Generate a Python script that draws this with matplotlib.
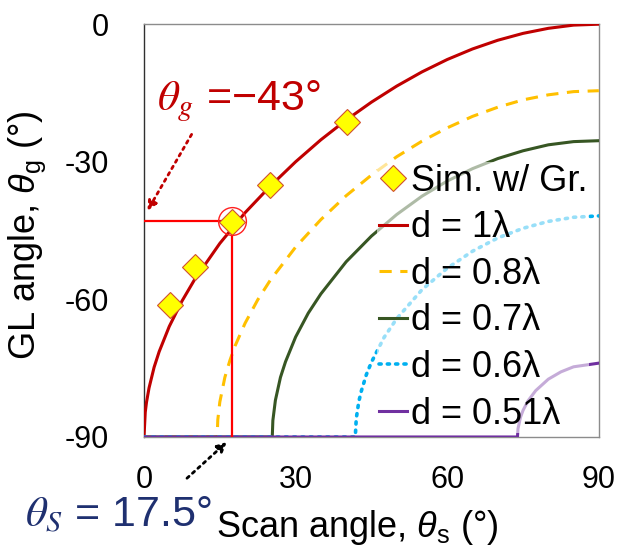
import numpy as np
import matplotlib
matplotlib.use('Agg')
import matplotlib.pyplot as plt

plt.rcParams['font.family'] = ['Liberation Sans', 'DejaVu Sans']
plt.rcParams['mathtext.fontset'] = 'custom'
plt.rcParams['mathtext.it'] = 'Liberation Sans:italic'
plt.rcParams['mathtext.rm'] = 'Liberation Sans'
plt.rcParams['axes.unicode_minus'] = False

# grating lobe angle vs scan angle
scan_d100 = [0, 0.25, 0.5, 1, 2, 3, 5, 7.5, 10, 15, 20, 25, 30, 35, 40, 45, 50, 55, 60, 65, 70, 75, 80, 85, 90]
gl_d100 = [-90, -84.6, -82.4, -79.3, -74.8, -71.4, -65.9, -60.4, -55.7, -47.8, -41.1, -35.3, -30.0,
           -25.2, -20.9, -17.0, -13.5, -10.4, -7.7, -5.4, -3.5, -2.0, -0.9, -0.2, 0]

scan_d080 = [0, 14.48, 14.6, 15, 16, 17, 18, 20, 22.5, 25, 30, 35, 40, 45, 50, 55, 60, 65, 70, 75, 80, 85, 90]
gl_d080 = [-90, -90, -86.3, -82.4, -77.0, -73.3, -70.2, -65.2, -60.1, -55.8, -48.6, -42.6, -37.4,
           -32.9, -28.9, -25.5, -22.6, -20.1, -18.1, -16.5, -15.4, -14.7, -14.5]

scan_d070 = [0, 25.38, 25.5, 26, 27, 28, 30, 32.5, 35, 40, 45, 50, 55, 60, 65, 70, 75, 80, 85, 90]
gl_d070 = [-90, -90, -86.4, -82.0, -77.0, -73.6, -68.2, -63.0, -58.8, -51.8, -46.2, -41.5, -37.5,
           -34.2, -31.5, -29.3, -27.6, -26.3, -25.6, -25.4]

scan_d060 = [0, 41.81, 42, 42.5, 43, 44, 45, 47.5, 50, 55, 60, 65, 70, 75, 80, 85, 90]
gl_d060 = [-90, -90, -86.0, -82.3, -80.0, -76.4, -73.7, -68.3, -64.2, -57.9, -53.2, -49.5, -46.6,
           -44.5, -43.0, -42.1, -41.8]

scan_d051 = [0, 73.9, 74, 74.5, 75, 76, 77.5, 80, 82.5, 85, 90]
gl_d051 = [-90, -90, -88.2, -85.7, -84.2, -82.1, -79.9, -77.4, -75.8, -74.7, -73.9]

# simulated points
sim_scan = [5.1, 10.1, 17.4, 24.9, 40.1]
sim_gl = [-61.2, -53.0, -43.1, -35.1, -21.3]

sel_scan = 17.5
sel_gl = -43

fig = plt.figure(figsize=(6.18, 5.5), dpi=100)
ax = fig.add_axes([0.233, 0.2055, 0.736, 0.7505])

ax.plot(scan_d100, gl_d100, color='#C00000', lw=2.2, label='d = 1λ', zorder=3)
ax.plot(scan_d080, gl_d080, color='#FFC000', lw=2.2, ls=(0, (4, 2.8)), label='d = 0.8λ', zorder=3)
ax.plot(scan_d070, gl_d070, color='#375623', lw=2.2, label='d = 0.7λ', zorder=3)
ax.plot(scan_d060, gl_d060, color='#00B0F0', lw=2.6, ls=(0, (0.6, 1.7)), dash_capstyle='round',
        label='d = 0.6λ', zorder=3)
ax.plot(scan_d051, gl_d051, color='#7030A0', lw=2.2, label='d = 0.51λ', zorder=3)

# selected point guide lines
ax.plot([0, sel_scan], [sel_gl, sel_gl], color='#FF0000', lw=1.6, zorder=4)
ax.plot([sel_scan, sel_scan], [sel_gl, -90], color='#FF0000', lw=1.6, zorder=4)

sim, = ax.plot(sim_scan, sim_gl, 'D', ms=13, mfc='#FFFF00', mec='#D05030', mew=0.8,
               ls='none', label='Sim. w/ Gr.', zorder=5)
ax.plot([sel_scan], [sel_gl], 'o', ms=20, mfc='none', mec='#FF2020', mew=1.0, zorder=6)

ax.set_xlim(0, 90)
ax.set_ylim(-90, 0)
ax.set_xticks([0, 30, 60, 90])
ax.set_yticks([0, -30, -60, -90])
ax.tick_params(length=0, labelsize=22, colors='black')
ax.tick_params(axis='y', pad=25)
ax.tick_params(axis='x', pad=20)
for s in ['top', 'right', 'bottom']:
    ax.spines[s].set_color('#8c8c8c')
ax.spines['left'].set_color('#303030')
for s in ax.spines.values():
    s.set_linewidth(1.0)

ax.set_xlabel(r'Scan angle, $\theta_\mathrm{s}$ (°)', fontsize=26)
ax.set_ylabel(r'GL angle, $\theta_\mathrm{g}$ (°)', fontsize=26)
ax.xaxis.set_label_coords(0.468, -0.172)
ax.yaxis.set_label_coords(-0.21, 0.49)

h, l = ax.get_legend_handles_labels()
order = [5, 0, 1, 2, 3, 4]
leg = ax.legend([h[i] for i in order], [l[i] for i in order], loc='lower right',
                bbox_to_anchor=(0.987, 0.0), fontsize=26, handlelength=0.8, handletextpad=0.1,
                labelspacing=0.32, borderaxespad=0.1, borderpad=0.05, frameon=True, fancybox=False)
leg.get_frame().set_facecolor('white')
leg.get_frame().set_alpha(0.6)
leg.get_frame().set_edgecolor('none')
leg.set_zorder(7)

# annotations
ax.text(2.6, -18.7, r'$\theta_g$ =−43°', color='#C00000', fontsize=31, math_fontfamily='stix',
        ha='left', va='baseline')
ax.annotate('', xy=(0.4, -41.2), xytext=(9.7, -23.5), annotation_clip=False,
            arrowprops=dict(arrowstyle='-|>', color='#C00000', lw=2, ls=':', mutation_scale=14))
ax.annotate('', xy=(16.8, -90.7), xytext=(8.1, -99.4), annotation_clip=False,
            arrowprops=dict(arrowstyle='-|>', color='black', lw=2, ls=':', mutation_scale=14))
fig.text(0.040, 0.042, r'$\theta_S$ = 17.5°', color='#1F3070', fontsize=31, math_fontfamily='stix',
         ha='left', va='baseline')

fig.savefig('out.png', dpi=100)
